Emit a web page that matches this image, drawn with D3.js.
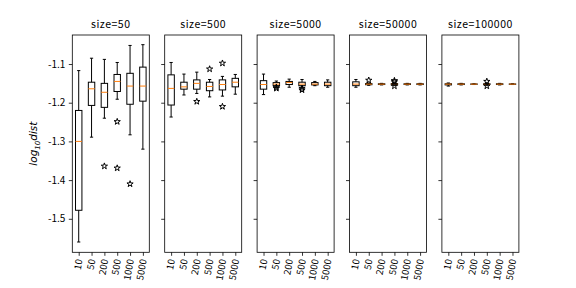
<!DOCTYPE html>
<html><head><meta charset="utf-8">
<script src="https://cdn.jsdelivr.net/npm/d3@7"></script>
<style>body{margin:0;background:#fff}svg{display:block}</style>
</head><body><div id="chart"></div>
<script>
const sizes = [50, 500, 5000, 50000, 100000];
const categories = ["10", "50", "200", "500", "1000", "5000"];
const yTicks = [-1.1, -1.2, -1.3, -1.4, -1.5];
// [whiskerLow, q1, median, q3, whiskerHigh] per category
const stats50 = [[-1.560,-1.478,-1.300,-1.220,-1.117],[-1.289,-1.207,-1.164,-1.147,-1.085],[-1.240,-1.212,-1.173,-1.150,-1.088],[-1.191,-1.171,-1.145,-1.127,-1.096],[-1.283,-1.204,-1.157,-1.124,-1.052],[-1.320,-1.196,-1.157,-1.108,-1.050]];
const stats500 = [[-1.237,-1.206,-1.163,-1.128,-1.096],[-1.180,-1.165,-1.159,-1.147,-1.126],[-1.176,-1.165,-1.150,-1.141,-1.121],[-1.185,-1.169,-1.158,-1.147,-1.140],[-1.183,-1.167,-1.153,-1.141,-1.132],[-1.178,-1.159,-1.147,-1.137,-1.127]];
const stats5000 = [[-1.179,-1.165,-1.153,-1.143,-1.126],[-1.161,-1.156,-1.152,-1.148,-1.144],[-1.160,-1.153,-1.148,-1.145,-1.139],[-1.160,-1.156,-1.152,-1.147,-1.140],[-1.156,-1.154,-1.152,-1.148,-1.145],[-1.160,-1.156,-1.152,-1.147,-1.141]];
const stats50000 = [[-1.160,-1.156,-1.152,-1.146,-1.140],[-1.155,-1.1535,-1.152,-1.1505,-1.149],[-1.154,-1.153,-1.152,-1.151,-1.150],[-1.155,-1.154,-1.152,-1.1505,-1.149],[-1.154,-1.153,-1.152,-1.151,-1.150],[-1.154,-1.153,-1.152,-1.151,-1.150]];
const stats100000 = [[-1.157,-1.154,-1.152,-1.151,-1.149],[-1.154,-1.153,-1.152,-1.151,-1.150],[-1.153,-1.1525,-1.152,-1.1515,-1.151],[-1.155,-1.153,-1.152,-1.151,-1.149],[-1.154,-1.153,-1.152,-1.151,-1.150],[-1.153,-1.1525,-1.152,-1.1515,-1.151]];
// outliers per category
const out50 = [[],[],[-1.364],[-1.249,-1.369],[-1.410],[]];
const out500 = [[],[],[-1.197],[-1.113],[-1.098,-1.210],[]];
const out5000 = [[],[-1.163,-1.160],[],[-1.167,-1.163],[],[]];
const out50000 = [[],[-1.142],[],[-1.143,-1.146,-1.157],[],[]];
const out100000 = [[],[],[],[-1.145,-1.157],[],[]];
const allStats = [stats50, stats500, stats5000, stats50000, stats100000];
const allOut = [out50, out500, out5000, out50000, out100000];

(function () {
const W = 576, H = 288;
const pTop = 35, pBottom = 252.3, left0 = 72.3, pw = 77, gap = 15.4;
const font = "'Noto Sans CJK SC', 'DejaVu Sans', sans-serif";

const svg = d3.select("#chart").append("svg").attr("width", W).attr("height", H)
  .style("font-family", font);

const y = d3.scaleLinear().domain([-1.5866, -1.025]).range([pBottom, pTop]);
const star = d3.symbol().type(d3.symbolStar).size(12);

sizes.forEach((s, pi) => {
  const left = left0 + pi * (pw + gap);
  const x = d3.scalePoint().domain(categories).range([left, left + pw]).padding(0.5);
  const g = svg.append("g");
  const bw = x.step() * 0.5;

  const ya = g.append("g").attr("transform", `translate(${left},0)`)
    .call(d3.axisLeft(y).tickValues(yTicks).tickSize(3.5).tickPadding(3.5)
      .tickFormat(pi === 0 ? (d => d3.format(".1f")(d).replace("\u2212", "-")) : () => ""));
  ya.select(".domain").remove();
  ya.selectAll("line").attr("stroke", "#000").attr("stroke-width", 0.8);
  ya.selectAll("text").attr("font-size", 10).attr("fill", "#000").attr("font-family", font);

  const xa = g.append("g").attr("transform", `translate(0,${pBottom})`)
    .call(d3.axisBottom(x).tickSize(3.5).tickPadding(3));
  xa.select(".domain").remove();
  xa.selectAll("line").attr("stroke", "#000").attr("stroke-width", 0.8);
  xa.selectAll("text").attr("font-size", 9.5).attr("fill", "#000").attr("font-family", font)
    .attr("text-anchor", "end").attr("dy", "0.35em")
    .attr("transform", "translate(0,7) rotate(-80)").attr("x", 0).attr("y", 0);

  const st = allStats[pi], ou = allOut[pi];
  categories.forEach((c, i) => {
    const cx = x(c), [lo, q1, med, q3, hi] = st[i];
    const bg = g.append("g").attr("stroke", "#000").attr("stroke-width", 1).attr("fill", "none");
    bg.append("line").attr("x1", cx).attr("x2", cx).attr("y1", y(q1)).attr("y2", y(lo));
    bg.append("line").attr("x1", cx).attr("x2", cx).attr("y1", y(q3)).attr("y2", y(hi));
    bg.append("line").attr("x1", cx - bw / 4).attr("x2", cx + bw / 4).attr("y1", y(lo)).attr("y2", y(lo));
    bg.append("line").attr("x1", cx - bw / 4).attr("x2", cx + bw / 4).attr("y1", y(hi)).attr("y2", y(hi));
    bg.append("rect").attr("x", cx - bw / 2).attr("width", bw)
      .attr("y", y(q3)).attr("height", Math.max(0.01, y(q1) - y(q3)));
    g.append("line").attr("x1", cx - bw / 2).attr("x2", cx + bw / 2).attr("y1", y(med)).attr("y2", y(med))
      .attr("stroke", "#ff7f0e").attr("stroke-width", 1);
    ou[i].forEach(v => {
      g.append("path").attr("d", star).attr("transform", `translate(${cx},${y(v)})`)
        .attr("fill", "none").attr("stroke", "#000").attr("stroke-width", 1);
    });
  });

  g.append("rect").attr("x", left).attr("y", pTop).attr("width", pw).attr("height", pBottom - pTop)
    .attr("fill", "none").attr("stroke", "#000").attr("stroke-width", 0.8);

  g.append("text").attr("x", left + pw / 2).attr("y", pTop - 7).attr("text-anchor", "middle")
    .attr("font-size", 10.5).attr("letter-spacing", 0.5).attr("fill", "#000").text("size=" + s);
});

const yl = svg.append("text").attr("transform", `translate(37,${(pTop + pBottom) / 2}) rotate(-90)`)
  .attr("text-anchor", "middle").attr("font-size", 10.5).attr("fill", "#000")
  .attr("font-family", "'DejaVu Sans', sans-serif").attr("font-style", "italic");
yl.append("tspan").text("log");
yl.append("tspan").attr("font-size", 7).attr("dy", 2.5).text("10");
yl.append("tspan").attr("dy", -2.5).text("dist");
})();
</script></body></html>
